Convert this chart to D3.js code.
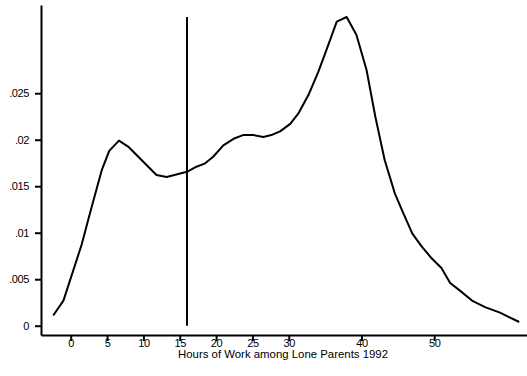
<!DOCTYPE html>
<html>
<head>
<meta charset="utf-8">
<script src="https://cdn.jsdelivr.net/npm/d3@7"></script>
<style>
  body { margin: 0; background: #fff; }
  text { font-family: 'Liberation Sans', Arial, sans-serif; font-size: 11px; fill: #000; }
  .tick text { letter-spacing: -0.4px; }
</style>
</head>
<body>
<svg id="canvas"></svg>
<script>
const hours = [-2.4, -1.0, 1.5, 2.65, 4.26, 5.3, 6.64, 8.0, 11.8, 13.2, 16.0, 17.3, 18.5, 19.6, 21.0, 22.4, 23.7, 25.1, 26.5, 27.6, 28.8, 30.2, 31.3, 32.7, 34.06, 35.2, 36.6, 37.96, 39.3, 40.7, 41.9, 43.2, 44.6, 45.75, 47.0, 48.3, 49.65, 51.0, 52.2, 53.5, 55.2, 57.0, 59.05, 61.7]
const density = [0.0011, 0.0027, 0.0087, 0.0121, 0.0167, 0.0188, 0.0199, 0.0192, 0.0162, 0.0160, 0.01655, 0.0171, 0.01746, 0.01817, 0.0194, 0.0201, 0.0205, 0.0205, 0.0203, 0.0205, 0.0209, 0.0217, 0.0228, 0.0248, 0.0273, 0.0297, 0.0327, 0.0332, 0.0313, 0.0275, 0.0225, 0.0178, 0.0142, 0.0121, 0.0099, 0.0085, 0.00725, 0.0062, 0.0046, 0.0038, 0.0027, 0.0020, 0.0014, 0.0004]
const xTicks = [0, 5, 10, 15, 20, 25, 30, 40, 50]
const yTicks = [0, 0.005, 0.01, 0.015, 0.02, 0.025]
const yTickLabels = ['0', '.005', '.01', '.015', '.02', '.025']
const refLine = { hours: 16, top: 0.0332 }
const xLabel = 'Hours of Work among Lone Parents 1992'

const w = 527
const h = 376
const canvas = d3.select('#canvas').attr('width', w).attr('height', h)

const xScale = d3.scaleLinear().domain([-4.085, 62.77]).range([41, 527])
const yScale = d3.scaleLinear().domain([-0.001, 0.03449]).range([335, 5])

// curve
const line = d3.line().x(d => xScale(d[0])).y(d => yScale(d[1]))
canvas.append('path')
      .datum(hours.map((x, i) => [x, density[i]]))
      .attr('d', line)
      .attr('fill', 'none')
      .attr('stroke', '#000')
      .attr('stroke-width', 2)
      .attr('stroke-linejoin', 'round')

// vertical reference line
canvas.append('line')
      .attr('x1', xScale(refLine.hours)).attr('x2', xScale(refLine.hours))
      .attr('y1', yScale(0)).attr('y2', yScale(refLine.top))
      .attr('stroke', '#000')
      .attr('stroke-width', 2)

// axes
const xAxis = d3.axisBottom(xScale).tickValues(xTicks).tickSize(6).tickSizeOuter(0).tickPadding(-2)
const yAxis = d3.axisLeft(yScale).tickValues(yTicks).tickFormat((d, i) => yTickLabels[i]).tickSize(6).tickSizeOuter(0).tickPadding(6)

const gx = canvas.append('g').attr('transform', 'translate(0,335)').call(xAxis)
const gy = canvas.append('g').attr('transform', 'translate(41,0)').call(yAxis)

;[gx, gy].forEach(g => {
  g.select('.domain').attr('stroke', '#000').attr('stroke-width', 2)
  g.selectAll('.tick line').attr('stroke', '#000').attr('stroke-width', 2)
  g.selectAll('.tick text').attr('font-family', null).attr('font-size', null).attr('fill', '#000')
})

canvas.append('text')
      .attr('x', 283)
      .attr('y', 358)
      .attr('text-anchor', 'middle')
      .attr('textLength', 210)
      .attr('lengthAdjust', 'spacingAndGlyphs')
      .text(xLabel)
</script>
</body>
</html>
